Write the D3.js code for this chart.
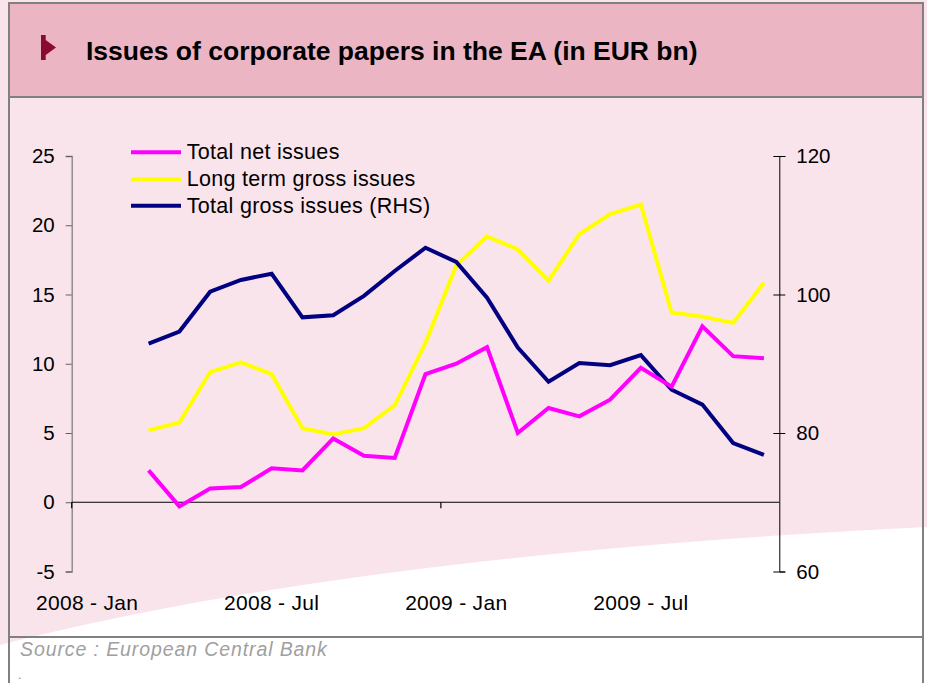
<!DOCTYPE html>
<html>
<head>
<meta charset="utf-8">
<script src="https://cdn.jsdelivr.net/npm/d3@7"></script>
<style>
  html, body { margin: 0; padding: 0; background: #ffffff; }
  svg { display: block; font-family: "Liberation Sans", Arial, sans-serif; }
</style>
</head>
<body>
<svg id="chart" width="927" height="683"></svg>
<script>
// Monthly categories on the x axis
const categories = [
  "2008 - Jan","2008 - Feb","2008 - Mar","2008 - Apr","2008 - May","2008 - Jun",
  "2008 - Jul","2008 - Aug","2008 - Sep","2008 - Oct","2008 - Nov","2008 - Dec",
  "2009 - Jan","2009 - Feb","2009 - Mar","2009 - Apr","2009 - May","2009 - Jun",
  "2009 - Jul","2009 - Aug","2009 - Sep","2009 - Oct","2009 - Nov"
];
const xTickLabels = ["2008 - Jan","2008 - Jul","2009 - Jan","2009 - Jul"];

// Series (EUR bn); the first two months carry no data
const netIssues = [null,null,2.3,-0.3,1.0,1.1,2.45,2.3,4.6,3.35,3.2,9.25,10.0,11.2,5.0,6.8,6.2,7.4,9.7,8.35,12.7,10.55,10.4];
const longTermGross = [null,null,5.2,5.75,9.4,10.1,9.25,5.35,4.9,5.35,7.0,11.5,17.1,19.2,18.25,16.0,19.35,20.8,21.5,13.7,13.4,12.95,15.85];
const totalGross = [null,null,92.9,94.65,100.4,102.1,103.0,96.7,97.0,99.8,103.4,106.75,104.7,99.55,92.35,87.4,90.1,89.8,91.25,86.25,84.1,78.55,76.85];

const leftTicks = [-5,0,5,10,15,20,25];
const rightTicks = [60,80,100,120];

const seriesNames = ["Total net issues","Long term gross issues","Total gross issues (RHS)"];
const seriesColors = ["#ff00ff","#ffff00","#000080"];

const svg = d3.select("#chart");
const W = 927, H = 683;

// Page background: pale pink with a white sweep along the bottom
svg.append("rect").attr("width", W).attr("height", H).attr("fill", "#fae4ec");
svg.append("path")
  .attr("d", "M0,645 Q350,555 927,527 L927,683 L0,683 Z")
  .attr("fill", "#ffffff");

// Title band
svg.append("rect").attr("x", 9).attr("y", 3).attr("width", 914).attr("height", 94)
  .attr("fill", "#ecb5c4");
svg.append("path")
  .attr("d", "M41,35 L45.7,35 L45.7,40 L56,47.5 L45.7,55 L45.7,60 L41,60 Z")
  .attr("fill", "#8b0a30");
svg.append("text").attr("x", 86).attr("y", 59.5)
  .attr("font-size", 26.5).attr("font-weight", "bold").attr("fill", "#000")
  .text("Issues of corporate papers in the EA (in EUR bn)");

// Frame lines
const frame = svg.append("g").attr("stroke", "#808080").attr("stroke-width", 2).attr("fill", "none");
frame.append("path").attr("d", "M9,683 L9,3 L923,3 L923,683");
frame.append("line").attr("x1", 9).attr("x2", 923).attr("y1", 97).attr("y2", 97);
frame.append("line").attr("x1", 9).attr("x2", 923).attr("y1", 637).attr("y2", 637);

// Scales
const x = d3.scaleBand().domain(categories).range([71.7, 779.3]).padding(0);
const cx = c => x(c) + x.bandwidth() / 2;
const yL = d3.scaleLinear().domain([-5, 25]).range([571.5, 156]);
const yR = d3.scaleLinear().domain([60, 120]).range([571.5, 156]);

const tickFont = sel => sel.attr("font-size", 20.5).attr("fill", "#000")
  .attr("font-family", "Liberation Sans, Arial, sans-serif");

// Left axis
const gL = svg.append("g").attr("transform", "translate(71.7,0)")
  .call(d3.axisLeft(yL).tickValues(leftTicks).tickSize(6).tickPadding(11).tickFormat(d => String(d)));
gL.select(".domain").attr("stroke", "#808080").attr("stroke-width", 1.3);
gL.selectAll(".tick line").attr("stroke", "#606060");
gL.selectAll("text").call(tickFont);

// Right axis (ticks cross the axis line)
const gR = svg.append("g").attr("transform", "translate(779.3,0)")
  .call(d3.axisRight(yR).tickValues(rightTicks).tickSize(6).tickPadding(11).tickFormat(d => String(d)));
gR.select(".domain").attr("stroke", "#000");
gR.selectAll(".tick line").attr("x1", -6).attr("x2", 6).attr("stroke", "#000");
gR.selectAll("text").call(tickFont);

// Zero line with year-boundary ticks
svg.append("line").attr("x1", 71.7).attr("x2", 779.3).attr("y1", yL(0)).attr("y2", yL(0))
  .attr("stroke", "#000").attr("stroke-width", 1.2);
svg.append("g").selectAll("line")
  .data(categories.filter(c => c.endsWith("Jan")))
  .join("line")
  .attr("x1", d => x(d)).attr("x2", d => x(d))
  .attr("y1", yL(0)).attr("y2", yL(0) + 6)
  .attr("stroke", "#000").attr("stroke-width", 1.2);

// Category labels
const gX = svg.append("g").attr("transform", `translate(0,${yL(-5)})`)
  .call(d3.axisBottom(x).tickValues(xTickLabels).tickSize(0).tickPadding(24));
gX.select(".domain").remove();
gX.selectAll("text").call(tickFont).attr("font-size", 21).attr("letter-spacing", 0.3);

// Lines
const lineL = d3.line().defined(d => d.v !== null).x(d => cx(d.c)).y(d => yL(d.v));
const lineR = d3.line().defined(d => d.v !== null).x(d => cx(d.c)).y(d => yR(d.v));
const asPts = arr => categories.map((c, i) => ({ c, v: arr[i] }));

svg.append("path").datum(asPts(longTermGross)).attr("d", lineL)
  .attr("fill", "none").attr("stroke", seriesColors[1]).attr("stroke-width", 4);
svg.append("path").datum(asPts(totalGross)).attr("d", lineR)
  .attr("fill", "none").attr("stroke", seriesColors[2]).attr("stroke-width", 4);
svg.append("path").datum(asPts(netIssues)).attr("d", lineL)
  .attr("fill", "none").attr("stroke", seriesColors[0]).attr("stroke-width", 4);

// Legend
const leg = svg.append("g");
const legY = [159.3, 186.3, 212.7];
seriesNames.forEach((name, i) => {
  leg.append("line").attr("x1", 131).attr("x2", 181)
    .attr("y1", legY[i] - 7).attr("y2", legY[i] - 7)
    .attr("stroke", seriesColors[i]).attr("stroke-width", 4);
  leg.append("text").attr("x", 186.7).attr("y", legY[i])
    .attr("font-size", 21.5).attr("letter-spacing", 0.3).attr("fill", "#000").text(name);
});

// Source note
svg.append("text").attr("x", 20).attr("y", 656)
  .attr("font-size", 19.5).attr("font-style", "italic").attr("fill", "#a0a0a0")
  .attr("letter-spacing", 0.9)
  .text("Source : European Central Bank");
svg.append("text").attr("x", 18).attr("y", 679)
  .attr("font-size", 12).attr("fill", "#808080").text(".");
</script>
</body>
</html>
